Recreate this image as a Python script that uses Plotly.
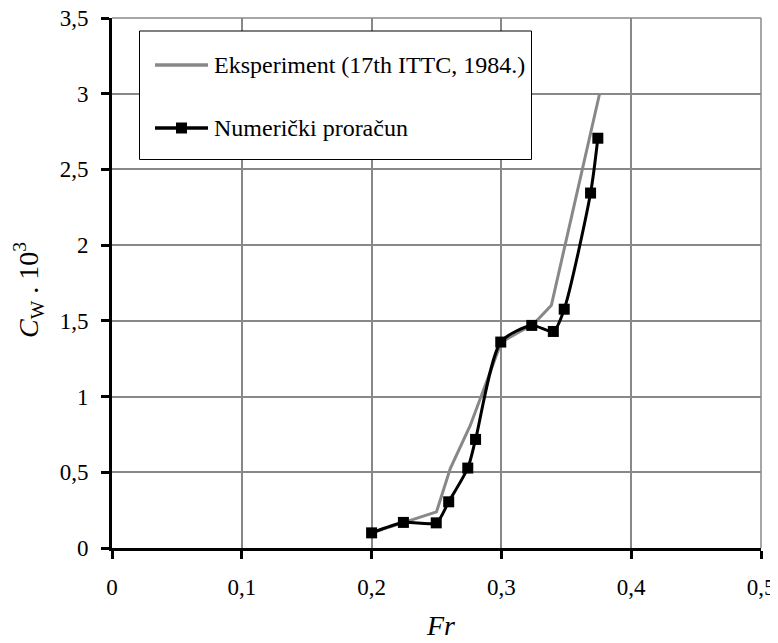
import plotly.graph_objects as go

# Experimental data (gray line)
exp_fr = [0.200, 0.225, 0.250, 0.2606, 0.276, 0.300, 0.325, 0.3385, 0.3755]
exp_cw = [0.10, 0.17, 0.239, 0.524, 0.809, 1.36, 1.48, 1.603, 2.995]

# Numerical computation (black line with square markers)
num_fr = [0.200, 0.2245, 0.2498, 0.2594, 0.2741, 0.2801, 0.2995, 0.3234, 0.3400, 0.3484, 0.3687, 0.3743]
num_cw = [0.100, 0.169, 0.166, 0.305, 0.528, 0.717, 1.360, 1.470, 1.430, 1.577, 2.344, 2.706]

x_ticks = [0, 0.1, 0.2, 0.3, 0.4, 0.5]
y_ticks = [0, 0.5, 1, 1.5, 2, 2.5, 3, 3.5]

legend_names = ["Eksperiment (17th ITTC, 1984.)", "Numerički proračun"]

FONT = "Liberation Serif, Times New Roman, serif"
GRAY = "#888888"

fig = go.Figure()
fig.add_trace(go.Scatter(x=exp_fr, y=exp_cw, mode="lines", name=legend_names[0],
                         line=dict(color=GRAY, width=3), showlegend=False))
fig.add_trace(go.Scatter(x=num_fr, y=num_cw, mode="lines+markers", name=legend_names[1],
                         line=dict(color="black", width=3, shape="spline", smoothing=0.7),
                         marker=dict(symbol="square", size=11, color="black"),
                         showlegend=False))

# page body has an 8px margin -> figure is 8px smaller than the window
OFF = 8
W, H = 770, 635
ml, mr, mt, mb = 104, 17, 10, 95
pw, ph = W - ml - mr, H - mt - mb


def px(xp):
    return (xp - OFF - ml) / pw


def py(yp):
    return (H - mb - (yp - OFF)) / ph


shapes = []
# top and right gridlines (frame)
shapes.append(dict(type="line", xref="paper", yref="paper", x0=0, x1=1, y0=1, y1=1,
                   line=dict(color=GRAY, width=1.5), layer="below"))
shapes.append(dict(type="line", xref="paper", yref="paper", x0=1, x1=1, y0=0, y1=1,
                   line=dict(color=GRAY, width=1.5), layer="below"))
# legend box
shapes.append(dict(type="rect", xref="paper", yref="paper",
                   x0=px(139.5), x1=px(531.5), y0=py(159.5), y1=py(31),
                   line=dict(color="black", width=1), fillcolor="white", layer="above"))
# legend samples
shapes.append(dict(type="line", xref="paper", yref="paper", x0=px(155), x1=px(208),
                   y0=py(65), y1=py(65), line=dict(color=GRAY, width=3.5), layer="above"))
shapes.append(dict(type="line", xref="paper", yref="paper", x0=px(155), x1=px(208),
                   y0=py(128), y1=py(128), line=dict(color="black", width=3.5), layer="above"))
shapes.append(dict(type="rect", xref="paper", yref="paper", x0=px(176), x1=px(187),
                   y0=py(133.5), y1=py(122.5), line=dict(color="black", width=0),
                   fillcolor="black", layer="above"))

annotations = [
    dict(text=legend_names[0], xref="paper", yref="paper", x=px(212), y=py(65),
         xanchor="left", yanchor="middle", showarrow=False,
         font=dict(family=FONT, size=24, color="black")),
    dict(text=legend_names[1], xref="paper", yref="paper", x=px(212), y=py(128),
         xanchor="left", yanchor="middle", showarrow=False,
         font=dict(family=FONT, size=24, color="black")),
    dict(text="<i>Fr</i>", xref="paper", yref="paper", x=px(440), y=py(643),
         xanchor="center", yanchor="bottom", showarrow=False,
         font=dict(family=FONT, size=28, color="black")),
    dict(text="<i>C</i><sub>W</sub> . 10<sup>3</sup>", xref="paper", yref="paper",
         x=px(28), y=py(290), xanchor="center", yanchor="middle", textangle=-90,
         showarrow=False, font=dict(family=FONT, size=28, color="black")),
]

fig.update_layout(
    width=W, height=H,
    margin=dict(l=ml, r=mr, t=mt, b=mb, autoexpand=False),
    paper_bgcolor="white", plot_bgcolor="white",
    separators=", ",
    font=dict(family=FONT, size=23, color="black"),
    shapes=shapes,
    annotations=annotations,
    showlegend=False,
)
fig.update_xaxes(range=[0, 0.5], tickvals=x_ticks,
                 ticktext=[("%g" % v).replace(".", ",") for v in x_ticks],
                 showgrid=True, gridcolor=GRAY, gridwidth=1.5,
                 showline=True, linecolor="black", linewidth=3,
                 ticks="outside", ticklen=8, tickwidth=3, tickcolor="black",
                 ticklabelstandoff=8, ticklabeloverflow="allow", automargin=False,
                 zeroline=False,
                 tickfont=dict(family=FONT, size=23, color="black"))
fig.update_yaxes(range=[0, 3.5], tickvals=y_ticks,
                 ticktext=[("%g" % v).replace(".", ",") for v in y_ticks],
                 showgrid=True, gridcolor=GRAY, gridwidth=1.5,
                 showline=True, linecolor="black", linewidth=3,
                 ticks="outside", ticklen=8, tickwidth=3, tickcolor="black",
                 ticklabelstandoff=8, ticklabeloverflow="allow", automargin=False,
                 zeroline=False,
                 tickfont=dict(family=FONT, size=23, color="black"))

fig.write_html("out.html")
